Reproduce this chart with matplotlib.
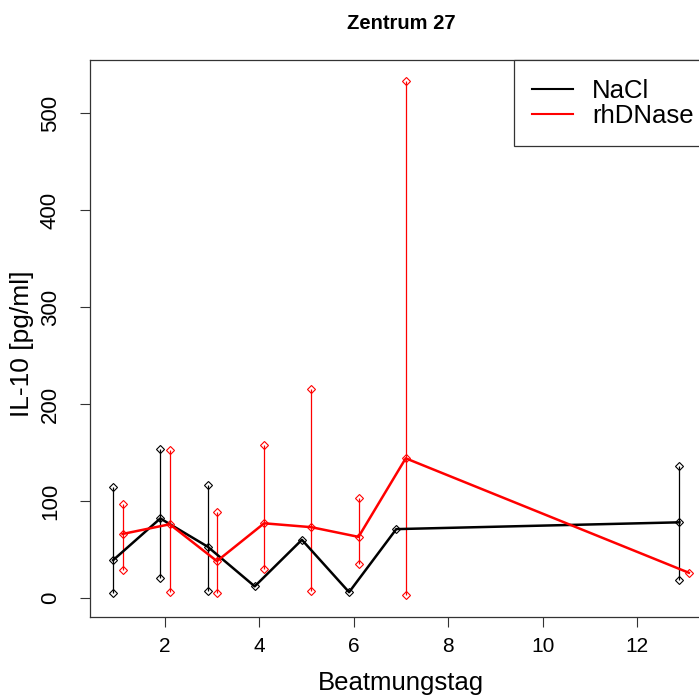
import matplotlib
matplotlib.use("Agg")
import matplotlib.pyplot as plt
import numpy as np

plt.rcParams["font.family"] = ["Liberation Sans", "DejaVu Sans"]

# day positions (slightly shifted per group, as in the original)
nacl_day = [0.9, 1.9, 2.9, 3.9, 4.9, 5.9, 6.9, 12.9]
nacl_med = [39, 82, 53, 12, 60, 6, 71, 78]
nacl_lo = [5, 21, 7, np.nan, np.nan, np.nan, np.nan, 19]
nacl_hi = [114, 154, 116, np.nan, np.nan, np.nan, np.nan, 136]

rh_day = [1.1, 2.1, 3.1, 4.1, 5.1, 6.1, 7.1, 13.1]
rh_med = [66, 76, 38, 77, 73, 63, 144, 26]
rh_lo = [29, 6, 5, 30, 7, 35, 3, np.nan]
rh_hi = [97, 153, 89, 158, 215, 103, 533, np.nan]

fig = plt.figure(figsize=(6.99, 6.98), dpi=100)
ax = fig.add_axes([90 / 699, 81 / 698, 622 / 699, 557 / 698])

def draw_group(days, med, lo, hi, color, label):
    days = np.array(days)
    lo = np.array(lo, dtype=float)
    hi = np.array(hi, dtype=float)
    ok = ~np.isnan(lo)
    ax.vlines(days[ok], lo[ok], hi[ok], color=color, lw=0.9, zorder=2)
    ax.plot(days[ok], lo[ok], "D", ms=4.3, mfc="none", mec=color, mew=0.8, zorder=3)
    ax.plot(days[ok], hi[ok], "D", ms=4.3, mfc="none", mec=color, mew=0.8, zorder=3)
    ax.plot(days, med, "-", color=color, lw=1.8, zorder=4, label=label)
    ax.plot(days, med, "D", ms=4.3, mfc="none", mec=color, mew=0.8, zorder=5)

draw_group(nacl_day, nacl_med, nacl_lo, nacl_hi, "black", "NaCl")
draw_group(rh_day, rh_med, rh_lo, rh_hi, "red", "rhDNase")

ax.set_xlim(0.41, 13.59)
ax.set_ylim(-19.6, 554.6)
ax.set_xticks([2, 4, 6, 8, 10, 12])
ax.set_yticks([0, 100, 200, 300, 400, 500])
ax.tick_params(direction="out", length=7, width=0.8, colors="#333333", labelcolor="black")
ax.tick_params(axis="x", labelsize=15, pad=7.5)
ax.tick_params(axis="y", labelsize=16, labelrotation=90, pad=14)
for lab in ax.get_yticklabels():
    lab.set_va("center")

for sp in ax.spines.values():
    sp.set_color("#333333")
    sp.set_linewidth(0.9)

ax.set_xlabel("Beatmungstag", fontsize=18.5)
ax.set_ylabel("IL-10 [pg/ml]", fontsize=19)
ax.xaxis.set_label_coords(0.5, -66 / 557)
ax.xaxis.label.set_va("center")
ax.yaxis.set_label_coords(-68 / 622, 0.49)
ax.yaxis.label.set_va("center")
ax.yaxis.label.set_ha("center")
ax.set_title("Zentrum 27", fontsize=14.5, fontweight="bold", pad=22)

leg = ax.legend(loc="upper right", bbox_to_anchor=(1, 1), borderaxespad=0,
                fontsize=18.5, frameon=True, fancybox=False, framealpha=1,
                edgecolor="#333333", handlelength=1.6, handletextpad=0.72,
                labelspacing=0.05, borderpad=0.72)
leg.get_frame().set_linewidth(0.9)
for h in leg.get_lines():
    h.set_linewidth(1.5)

fig.savefig("out.png", dpi=100)
